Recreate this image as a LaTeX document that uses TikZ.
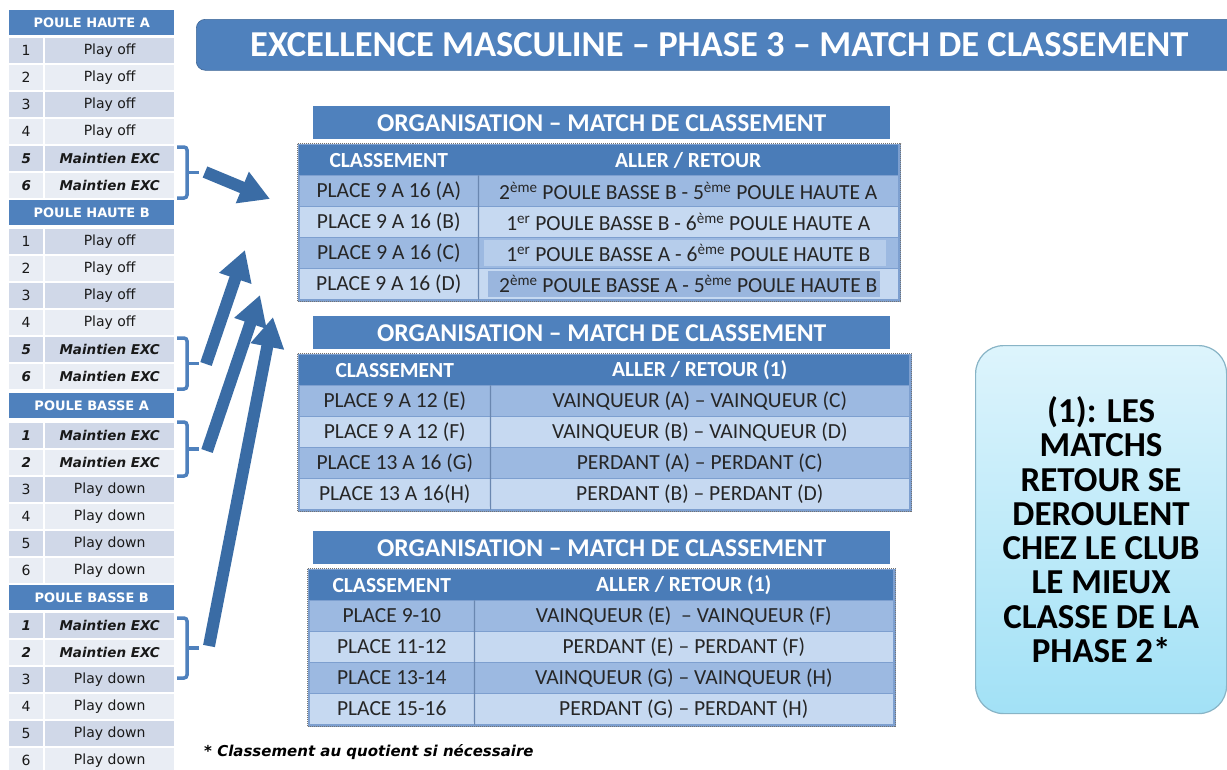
\documentclass[tikz,border=0pt]{standalone}
\usepackage{fontspec}
\setmainfont{Carlito}
\newfontfamily\dvs{DejaVu Sans}
\usetikzlibrary{arrows.meta}
\definecolor{hblue}{HTML}{4F81BD}
\definecolor{thblue}{HTML}{4A7CB8}
\definecolor{rowdark}{HTML}{D0D8E8}
\definecolor{rowlight}{HTML}{E9EDF4}
\definecolor{tmid}{HTML}{9CB9E1}
\definecolor{tlight}{HTML}{C6D9F1}
\definecolor{tline}{HTML}{7D9FCF}
\definecolor{innerlight}{HTML}{B6CDEB}
\definecolor{innerdark}{HTML}{9AB6DE}
\definecolor{arrowblue}{HTML}{3A6CA5}
\definecolor{braceblue}{HTML}{4F81BD}
\definecolor{boxtop}{HTML}{DDF4FC}
\definecolor{boxbot}{HTML}{A2E1F6}
\definecolor{boxedge}{HTML}{88B4C6}
\newcommand\prm{\dvs\fontsize{14}{14}\selectfont}
\newcommand\pbi{\dvs\bfseries\itshape\fontsize{13.5}{13.5}\selectfont}
\newcommand\pouleblock[5]{%
  \node[phdr] (#1h) at (9,#3) {#2};
  \foreach \pnm/\ptx/\pst [count=\i] in {#5} {%
    \pgfmathsetmacro\yy{#4+27*(\i-1)}%
    \ifodd\i\def\fc{rowdark}\else\def\fc{rowlight}\fi
    \node[pnum,fill=\fc] (#1n\i) at (9,\yy) {\pst\pnm};
    \node[ptxt,fill=\fc] (#1t\i) at (45,\yy) {\pst\ptx};
  }%
}
\newcommand\orgtable[7]{%
  \pgfmathsetmacro\bt{#5-37}%
  \node[banner] (#1b) at (313,\bt) {ORGANISATION – MATCH DE CLASSEMENT};
  \pgfmathsetmacro\fw{#3-#2}%
  \node[tframe,minimum width=\fw pt] (#1f) at (#2,#5) {};
  \pgfmathsetmacro\hy{#5+2}%
  \pgfmathsetmacro\wa{#4-#2-2}%
  \pgfmathsetmacro\wb{#3-#4-2}%
  \pgfmathsetmacro\xa{#2+2}%
  \node[thead,minimum width=\wa pt] (#1ha) at (\xa,\hy) {CLASSEMENT};
  \node[thead,minimum width=\wb pt] (#1hb) at (#4,\hy) {#6};
  \foreach \ca/\cb/\cx [count=\i] in {#7} {%
    \pgfmathsetmacro\ry{#5+32+31*(\i-1)}%
    \ifodd\i\def\fc{tmid}\else\def\fc{tlight}\fi
    \node[tcell,fill=\fc,minimum width=\wa pt] (#1a\i) at (\xa,\ry) {\ca};
    \node[tcell,fill=\fc,minimum width=\wb pt,\cx] (#1c\i) at (#4,\ry) {\cb};
  }%
  \draw[tdiv] (#1ha.south east) -- (#1a4.south east);
}
\begin{document}
\begin{tikzpicture}[x=1pt,y=-1pt,
  phdr/.style={anchor=north west,fill=hblue,text=white,inner sep=0pt,
    minimum width=165pt,minimum height=25pt,font=\dvs\bfseries\fontsize{13}{13}\selectfont},
  pnum/.style={anchor=north west,inner sep=0pt,minimum width=34pt,minimum height=25pt,text=black!90},
  ptxt/.style={anchor=north west,inner sep=0pt,minimum width=129pt,minimum height=25pt,text=black!90},
  banner/.style={anchor=north west,fill=hblue,text=white,inner sep=0pt,
    minimum width=577pt,minimum height=33pt,font=\bfseries\fontsize{25.6}{25.6}\selectfont},
  tframe/.style={anchor=north west,minimum height=158pt,inner sep=0pt,fill=tline,
    draw=black!55,densely dotted,line width=1pt},
  thead/.style={anchor=north west,minimum height=30pt,inner sep=0pt,fill=thblue,text=white,
    font=\bfseries\fontsize{21.5}{21.5}\selectfont},
  tcell/.style={anchor=north west,minimum height=31pt,inner sep=0pt,draw=tline,line width=0.6pt,
    text=black!85,font=\fontsize{21.5}{21.5}\selectfont},
  plain/.style={},
  innerC/.style={path picture={\fill[innerlight]
    ([shift={(6pt,2pt)}]path picture bounding box.south west) rectangle
    ([shift={(-12pt,-3pt)}]path picture bounding box.north east);}},
  innerD/.style={path picture={\fill[innerdark]
    ([shift={(10pt,2pt)}]path picture bounding box.south west) rectangle
    ([shift={(-18pt,-3pt)}]path picture bounding box.north east);}},
  tdiv/.style={draw=tline!85!black,line width=1.2pt},
  titlebox/.style={anchor=north west,minimum width=1046pt,minimum height=51pt,rounded corners=9pt,
    fill=hblue,draw=hblue!80!black,line width=0.6pt,text=white,
    font=\bfseries\fontsize{36.5}{36.5}\selectfont},
  notebox/.style={anchor=north west,minimum width=251pt,minimum height=368pt,rounded corners=28pt,
    top color=boxtop,bottom color=boxbot,draw=boxedge,line width=1.2pt,align=center,
    font=\bfseries\fontsize{35}{34.3}\selectfont,text=black},
  bracestyle/.style={draw=braceblue,line width=3.5pt,rounded corners=3pt},
  bigarrow/.style={draw=arrowblue,line width=12pt,-{Triangle[width=32pt,length=30pt]}},
  footstyle/.style={anchor=west,inner sep=0pt,font=\dvs\bfseries\itshape\fontsize{15}{15}\selectfont}
]
\useasboundingbox (0,0) rectangle (1227,769);
\fill[white] (0,0) rectangle (1227,769);

% left column
\pouleblock{ha}{POULE HAUTE A}{10}{38}{1/Play off/\prm,2/Play off/\prm,3/Play off/\prm,4/Play off/\prm,5/Maintien EXC/\pbi,6/Maintien EXC/\pbi}
\pouleblock{hb}{POULE HAUTE B}{200}{229}{1/Play off/\prm,2/Play off/\prm,3/Play off/\prm,4/Play off/\prm,5/Maintien EXC/\pbi,6/Maintien EXC/\pbi}
\pouleblock{ba}{POULE BASSE A}{393}{423}{1/Maintien EXC/\pbi,2/Maintien EXC/\pbi,3/Play down/\prm,4/Play down/\prm,5/Play down/\prm,6/Play down/\prm}
\pouleblock{bb}{POULE BASSE B}{585}{613}{1/Maintien EXC/\pbi,2/Maintien EXC/\pbi,3/Play down/\prm,4/Play down/\prm,5/Play down/\prm,6/Play down/\prm}

% braces
\foreach \k/\ya/\yb in {1/147/198,2/338/389,3/422/476,4/618/678}{
  \pgfmathsetmacro\ym{(\ya+\yb)/2}
  \coordinate (br\k t) at (177,\ya);
  \coordinate (br\k v) at (187,\ya);
  \coordinate (br\k w) at (187,\yb);
  \coordinate (br\k b) at (177,\yb);
  \coordinate (br\k m) at (187,\ym);
  \coordinate (br\k p) at (199,\ym);
  \draw[bracestyle] (br\k t) -- (br\k v) -- (br\k w) -- (br\k b);
  \draw[bracestyle] (br\k m) -- (br\k p);
}

% arrows
\coordinate (a1s) at (205,172);
\coordinate (a1e) at (270,199);
\coordinate (a2s) at (206,364);
\coordinate (a2e) at (245,250);
\coordinate (a3s) at (207,451);
\coordinate (a3e) at (260,295);
\coordinate (a4s) at (209,646);
\coordinate (a4e) at (273,317);
\draw[bigarrow] (a1s) -- (a1e);
\draw[bigarrow] (a2s) -- (a2e);
\draw[bigarrow] (a3s) -- (a3e);
\draw[bigarrow] (a4s) -- (a4e);

% title
\node[titlebox] (title) at (196,19) {EXCELLENCE MASCULINE – PHASE 3 – MATCH DE CLASSEMENT};

% tables
\orgtable{ta}{297}{900}{478}{143}{ALLER / RETOUR}{PLACE 9 A 16 (A)/2\textsuperscript{ème} POULE BASSE B - 5\textsuperscript{ème} POULE HAUTE A/plain,PLACE 9 A 16 (B)/1\textsuperscript{er} POULE BASSE B - 6\textsuperscript{ème} POULE HAUTE A/plain,PLACE 9 A 16 (C)/1\textsuperscript{er} POULE BASSE A - 6\textsuperscript{ème} POULE HAUTE B/innerC,PLACE 9 A 16 (D)/2\textsuperscript{ème} POULE BASSE A - 5\textsuperscript{ème} POULE HAUTE B/innerD}
\orgtable{tb}{297}{911}{490}{353}{ALLER / RETOUR (1)}{PLACE 9 A 12 (E)/VAINQUEUR (A) – VAINQUEUR (C)/plain,PLACE 9 A 12 (F)/VAINQUEUR (B) – VAINQUEUR (D)/plain,PLACE 13 A 16 (G)/PERDANT (A) – PERDANT (C)/plain,PLACE 13 A 16(H)/PERDANT (B) – PERDANT (D)/plain}
\orgtable{tc}{307}{895}{474}{568}{ALLER / RETOUR (1)}{PLACE 9-10/VAINQUEUR (E) \ – VAINQUEUR (F)/plain,PLACE 11-12/PERDANT (E) – PERDANT (F)/plain,PLACE 13-14/VAINQUEUR (G) – VAINQUEUR (H)/plain,PLACE 15-16/PERDANT (G) – PERDANT (H)/plain}

% note box
\node[notebox] (note) at (975,345) {(1): LES\\MATCHS\\RETOUR SE\\DEROULENT\\CHEZ LE CLUB\\LE MIEUX\\CLASSE DE LA\\PHASE 2*};

% footer
\node[footstyle] (foot) at (204,752) {* Classement au quotient si nécessaire};
\end{tikzpicture}
\end{document}
